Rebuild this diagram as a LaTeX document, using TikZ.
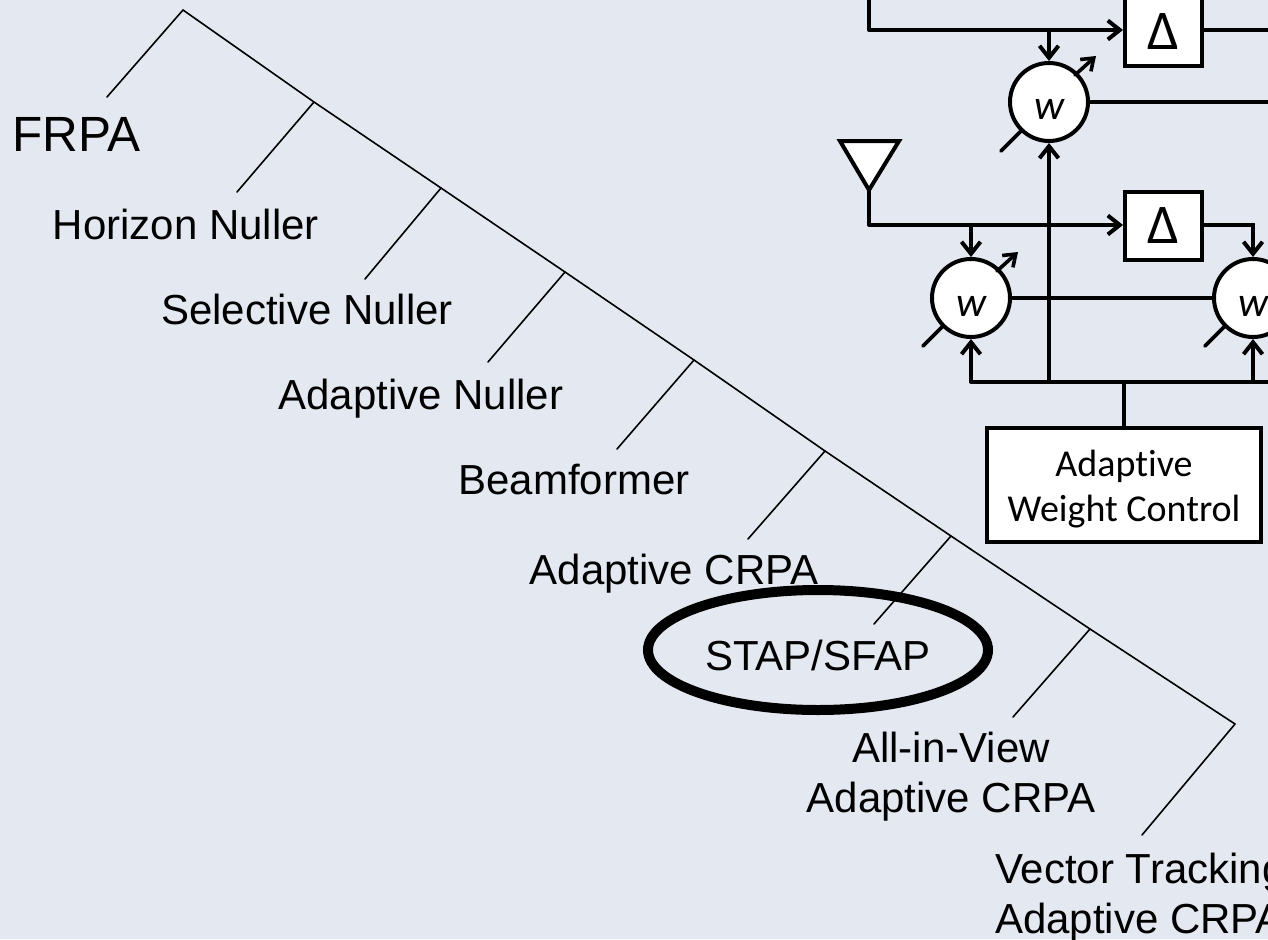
\documentclass[tikz,border=0pt]{standalone}
\usepackage{fontspec}
\setmainfont{Liberation Sans}
\newfontfamily\boxfont[Ligatures=NoCommon]{Carlito}
\usetikzlibrary{positioning,arrows.meta,shapes.geometric}
\definecolor{slidebg}{HTML}{E4E9F1}
\tikzset{
  lab/.style={font=\fontsize{42}{50}\selectfont,inner sep=0pt,align=center,text height=30pt,text depth=9pt},
  tree/.style={line width=1.6pt,line cap=round,line join=round},
  wire/.style={line width=4pt,line join=miter},
  sig/.style={wire,-{Straight Barb[length=12pt,width=19pt,line width=4pt]},line cap=round},
  tune/.style={line width=3.6pt,line cap=round},
  dly/.style={draw,wire,fill=white,minimum width=77pt,minimum height=68pt,inner sep=0pt,
    font=\boxfont\fontsize{56}{56}\selectfont},
  wgt/.style={draw,wire,circle,fill=white,minimum size=78pt,inner sep=0pt,text height=36pt,text depth=0pt,
    font=\boxfont\itshape\fontsize{42}{42}\selectfont},
  ant/.style={draw,wire,fill=white},
}

\begin{document}
\begin{tikzpicture}[x=1pt,y=-1pt,on grid]
  \fill[slidebg] (0,0) rectangle (1268,939);
  \useasboundingbox (0,0) rectangle (1268,939);
  % spine of the tree
  \coordinate (s0) at (183,10);
  \coordinate (s1) at (314,102);
  \coordinate (s2) at (441,188);
  \coordinate (s3) at (565,272);
  \coordinate (s4) at (694,360);
  \coordinate (s5) at (825,451);
  \coordinate (s6) at (951,536);
  \coordinate (s7) at (1090,629);
  \coordinate (s8) at (1235,724);
  \coordinate (e0) at (107,97);
  \coordinate (e1) at (237,192);
  \coordinate (e2) at (365,279);
  \coordinate (e3) at (488,362);
  \coordinate (e4) at (617,449);
  \coordinate (e5) at (748,539);
  \coordinate (e6) at (874,624);
  \coordinate (e7) at (1013,717);
  \coordinate (e8) at (1142,835);
  \draw[tree] (s0) -- (s1) -- (s2) -- (s3) -- (s4) -- (s5) -- (s6) -- (s7) -- (s8);
  \draw[tree] (s0) -- (e0) (s1) -- (e1) (s2) -- (e2) (s3) -- (e3) (s4) -- (e4)
    (s5) -- (e5) (s6) -- (e6) (s7) -- (e7) (s8) -- (e8);
  % labels
  \node[lab,anchor=west,font=\fontsize{49.5}{50}\selectfont] (frpa) at (12,141) {FRPA};
  \node[lab] (hnull) at (186,229) {Horizon Nuller};
  \node[lab] (snull) at (307,314) {Selective Nuller};
  \node[lab] (anull) at (421,399) {Adaptive Nuller};
  \node[lab] (beam) at (574,484) {Beamformer};
  \node[lab] (crpa) at (674,574) {Adaptive CRPA};
  \node[draw,ellipse,line width=10pt,minimum width=340pt,minimum height=120pt,inner sep=0pt,
    font=\fontsize{42}{50}\selectfont,text height=40pt,text depth=0pt] (stap) at (818,650) {STAP/SFAP};
  \node[lab] (aiv) at (951,802) {All-in-View\\Adaptive CRPA};
  \node[lab,anchor=west,align=left] (vec) at (995,923) {Vector Tracking\\Adaptive CRPA};
  % array front end
  \node[dly] (dly1) at (1163.5,32) {Δ};
  \node[dly,below=194pt of dly1] (dly2) {Δ};
  \node[wgt] (w1) at (1049,102) {w};
  \node[wgt] (w2) at (971,298) {w};
  \node[wgt,right=282pt of w2] (w3) {w};
  \node[draw,wire,fill=white,minimum width=274pt,minimum height=114pt,inner sep=0pt,align=center,
    font=\boxfont\fontsize{38}{45}\selectfont,text height=72pt,text depth=0pt] (awc) at (1124,485) {Adaptive\\Weight Control};
  \coordinate (bus) at (1124,382);
  \coordinate (top) at (869,-4);
  \coordinate (rt1) at (1272,30);
  \coordinate (rt2) at (1272,102);
  \coordinate (rt3) at (1272,382);
  \coordinate (j1) at (869,30);
  \coordinate (j2) at (869,225);
  \draw[wire] (top) -- (j1);
  \draw[sig] (j1) -- (j1 -| dly1.west);
  \draw[sig] (j1 -| w1) -- (w1.north);
  \draw[wire] (j1 -| dly1.east) -- (rt1);
  \draw[wire] (w1.east) -- (rt2);
  \draw[ant] (840,141) -- (899,141) -- (869,190) -- cycle;
  \draw[wire] (869,190) -- (j2);
  \draw[sig] (j2) -- (j2 -| dly2.west);
  \draw[sig] (j2 -| w2) -- (w2.north);
  \draw[sig] (j2 -| dly2.east) -| (w3.north);
  \draw[wire] (w2.east) -- (w3.west);
  \draw[wire] (w2 |- bus) -- (rt3);
  \draw[sig] (w2 |- bus) -- (w2.south);
  \draw[sig] (w1 |- bus) -- (w1.south);
  \draw[sig] (w3 |- bus) -- (w3.south);
  \draw[wire] (bus) -- (awc.north);
  % tuning arrows through the weights
  \coordinate (t1a) at (1075,75);  \coordinate (t1b) at (1096,56);
  \coordinate (t2a) at (997,271);  \coordinate (t2b) at (1018,252);
  \coordinate (b1a) at (1001,151); \coordinate (b1b) at (1021,131);
  \coordinate (b2a) at (923,346);  \coordinate (b2b) at (943,326);
  \coordinate (b3a) at (1205,346); \coordinate (b3b) at (1225,326);
  \draw[tune,-{Straight Barb[length=11pt,width=16pt,line width=3.6pt]}] (t1a) -- (t1b);
  \draw[tune,-{Straight Barb[length=11pt,width=16pt,line width=3.6pt]}] (t2a) -- (t2b);
  \draw[tune] (b1a) -- (b1b) (b2a) -- (b2b) (b3a) -- (b3b);
\end{tikzpicture}
\end{document}
